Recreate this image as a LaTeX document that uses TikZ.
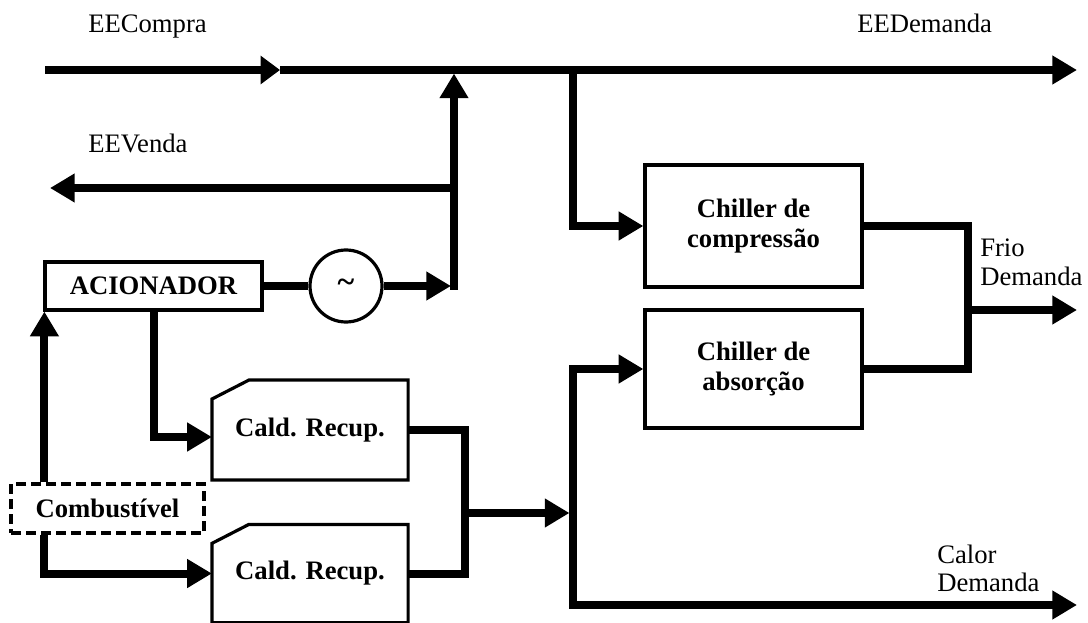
\documentclass[tikz,border=0pt]{standalone}
\usepackage{fontspec}
\setmainfont{Liberation Serif}
\usetikzlibrary{arrows.meta,calc}
\begin{document}
\begin{tikzpicture}[x=0.75pt,y=-0.75pt,
  box/.style={draw, line width=2.4pt, inner sep=0pt, font=\bfseries\fontsize{20}{22.5}\selectfont, align=center},
  flow/.style={line width=6pt, line join=miter},
  tip/.style={-{Triangle[length=18.5pt,width=20.5pt]}},
  lbl/.style={inner sep=0pt, font=\fontsize{20}{22}\selectfont, align=left},
]
\useasboundingbox (0,0) rectangle (1088,623);
% nodes
\node[box, minimum width=162.75pt, minimum height=36pt] (acion) at (153.5,286) {ACIONADOR};
\node[box, circle, minimum size=54pt, font=\bfseries\fontsize{24}{26}\selectfont] (gen) at (346,286) {\textasciitilde};
\node[box, draw=none, minimum width=144.75pt, minimum height=72.5pt] (c1) at (310,430) {Cald. Recup.};
\node[box, draw=none, minimum width=144.75pt, minimum height=71.25pt] (c2) at (310,573.5) {Cald. Recup.};
\draw[line width=2.4pt] (c1.south west) -- ($(c1.north west)+(0,19)$) -- ($(c1.north west)+(37,0)$) -- (c1.north east) -- (c1.south east) -- cycle;
\draw[line width=2.4pt] (c2.south west) -- ($(c2.north west)+(0,19)$) -- ($(c2.north west)+(37,0)$) -- (c2.north east) -- (c2.south east) -- cycle;
\node[box, dash pattern=on 7.5pt off 3.75pt, minimum width=144.75pt, minimum height=36.75pt] (comb) at (107.5,508.5) {Combustível};
\node[box, minimum width=162.75pt, minimum height=91.5pt] (comp) at (753.5,226) {Chiller de\\compressão};
\node[box, minimum width=162.75pt, minimum height=88.5pt] (absorp) at (753.5,369) {Chiller de\\absorção};
% labels
\node[lbl, anchor=base west] (eecompra) at (88,33) {EECompra};
\node[lbl, anchor=base west] (eevenda) at (88,152.5) {EEVenda};
\node[lbl, anchor=base west] (eedemanda) at (857,32.5) {EEDemanda};
\node[lbl, anchor=west] (frio) at (980,262) {Frio\\Demanda};
\node[lbl, anchor=west, font=\fontsize{20}{20.5}\selectfont] (calor) at (937,568.5) {Calor\\Demanda};
% coordinates
\coordinate (inE) at (45,70);
\coordinate (midE) at (280,70);
\coordinate (outE) at (1077,70);
\coordinate (br) at (573,70);
\coordinate (Jtip) at (451,286);
\coordinate (Jb) at (454,290);
\coordinate (Jt) at (454,73.5);
\coordinate (Jv) at (454,188);
\coordinate (vendaE) at (50,188);
\coordinate (mg) at (465,513);
\coordinate (mgtip) at (569.5,513);
\coordinate (cb) at (573,605);
\coordinate (calorE) at (1077,605);
\coordinate (fj) at (968,310);
\coordinate (frioE) at (1077,310);
% connectors
\draw[flow,-{Triangle[length=14.5pt,width=20.5pt]}] (inE) -- (midE);
\draw[flow,tip] (midE) -- (outE);
\draw[flow,tip] (br) |- (comp.west);
\draw[flow] (acion.east) -- (gen.west);
\draw[flow,tip] (gen.east) -- (Jtip);
\draw[flow,tip] (Jb) -- (Jt);
\draw[flow,tip] (Jv) -- (vendaE);
\draw[flow,tip] (acion.south) |- ([yshift=-5.25pt]c1.west);
\draw[flow,tip] ([xshift=0.75pt]comb.north -| acion.south west) -- ([xshift=0.75pt]acion.south west);
\draw[flow,tip] ([xshift=0.75pt]comb.south -| acion.south west) |- (c2.west);
\draw[flow] (c1.east) -| (mg);
\draw[flow] (c2.east) -| (mg);
\draw[flow,tip] (mg) -- (mgtip);
\draw[flow,{Triangle[length=18.5pt,width=20.5pt]}-{Triangle[length=18.5pt,width=20.5pt]}] (absorp.west) -| (cb) -- (calorE);
\draw[flow] (comp.east) -| (fj);
\draw[flow] (absorp.east) -| (fj);
\draw[flow,tip] (fj) -- (frioE);
\end{tikzpicture}
\end{document}
